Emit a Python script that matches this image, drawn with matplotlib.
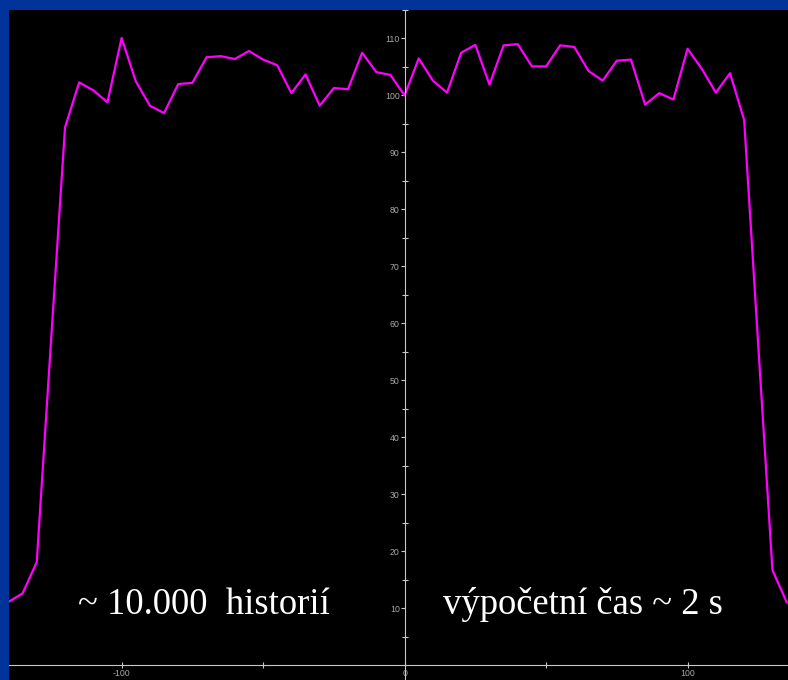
import matplotlib.pyplot as plt
import numpy as np

# beam profile: position vs. relative dose
pos = [-140, -135, -130, -125, -120, -115, -110, -105, -100, -95, -90, -85,
       -80, -75, -70, -65, -60, -55, -50, -45, -40, -35, -30, -25, -20, -15,
       -10, -5, 0, 5, 10, 15, 20, 25, 30, 35, 40, 45, 50, 55, 60, 65, 70, 75,
       80, 85, 90, 95, 100, 105, 110, 115, 120, 125, 130, 135]
dose = [11.1, 12.6, 18.1, 56.5, 94.4, 102.3, 100.9, 98.8, 110.1, 102.5, 98.2, 96.9,
        102.0, 102.2, 106.7, 106.9, 106.4, 107.8, 106.3, 105.3, 100.4, 103.7, 98.2, 101.3,
        101.1, 107.5, 104.1, 103.6, 100.0, 106.5, 102.6, 100.5, 107.5, 108.9, 101.9, 108.8,
        109.0, 105.1, 105.1, 108.8, 108.5, 104.3, 102.6, 106.1, 106.3, 98.4, 100.4, 99.3,
        108.2, 104.7, 100.5, 103.9, 95.7, 56.0, 16.7, 11.1]

y_major = np.arange(10, 111, 10)
y_minor = np.arange(5, 116, 10)
x_major = [-100, 0, 100]
x_minor = [-50, 50]

fig = plt.figure(figsize=(7.88, 6.8), dpi=100, facecolor='#003399')
ax = fig.add_axes([9 / 788, 0, 779 / 788, 670 / 680])
ax.set_facecolor('black')

ax.plot(pos, dose, color='#ff00ff', lw=1.6)

ax.set_xlim(-139.8, 135.5)
ax.set_ylim(-2.6, 114.9)

# axes crossing at the origin
for s in ['top', 'right']:
    ax.spines[s].set_visible(False)
ax.spines['left'].set_position(('data', 0))
ax.spines['bottom'].set_position(('data', 0))
ax.spines['left'].set_color('#c8c8c8')
ax.spines['bottom'].set_color('#c8c8c8')

ax.set_yticks(y_major)
ax.set_yticks(y_minor, minor=True)
ax.set_xticks(x_major)
ax.set_xticks(x_minor, minor=True)
ax.set_xticklabels([str(v) for v in x_major], family='Liberation Sans')
ax.set_yticklabels([str(v) for v in y_major], family='Liberation Sans')
ax.tick_params(axis='both', which='both', colors='#c8c8c8', labelcolor='#a8a8a8',
               labelsize=6.3, direction='inout', length=4, width=0.8, pad=1)
ax.tick_params(axis='y', which='major', direction='out', length=3, pad=0.5)

ax.text(-115.5, 8.9, '~ 10.000  historií', color='white', fontsize=26.4,
        family='Liberation Serif', va='baseline', ha='left')
ax.text(13.5, 8.9, 'výpočetní čas ~ 2 s', color='white', fontsize=26.4,
        family='Liberation Serif', va='baseline', ha='left')

fig.savefig('out.png', dpi=100, facecolor=fig.get_facecolor())
